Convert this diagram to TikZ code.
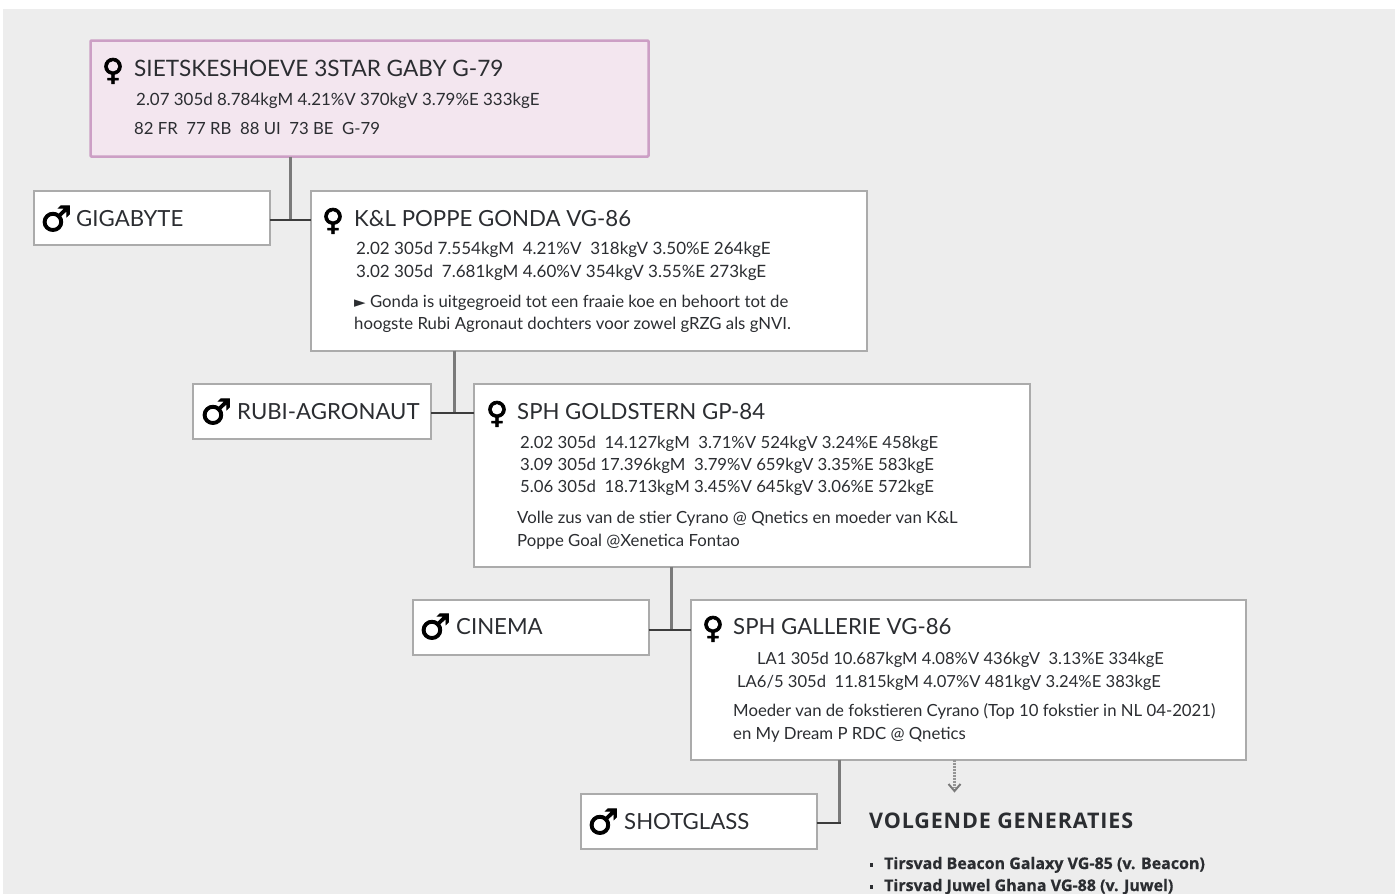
\documentclass[tikz,border=0pt]{standalone}
\usepackage{fontspec}
\setmainfont{Lato}
\newfontfamily\symf{DejaVu Sans}
\newfontfamily\symb[FakeBold=2.5]{DejaVu Sans}
\newfontfamily\headf[LetterSpace=4]{Open Sans Bold}
\newfontfamily\listf[FakeBold=0.6]{Open Sans Bold}
\definecolor{bg}{HTML}{EDEDED}
\definecolor{ink}{HTML}{2B2D31}
\definecolor{edge}{HTML}{ABABAB}
\tikzset{
  x=1pt,y=-1pt,
  box/.style={draw=edge,line width=2pt,fill=white,anchor=north west,inner sep=0,outer sep=0},
  rootbox/.style={box,draw=rootedge,fill=rootfill,line width=2.5pt,rounded corners=1pt},
  title/.style={anchor=base west,inner sep=0,yshift=-1pt,text=ink,font=\fontsize{22.2}{22}\selectfont},
  stat/.style={anchor=base west,inner sep=0,yshift=-1pt,text=ink,font=\fontsize{16.75}{17}\selectfont},
  femsym/.style={anchor=base,inner sep=0,text=black,font=\symb\fontsize{30}{30}\selectfont},
  malsym/.style={anchor=base,inner sep=0,text=black,font=\symb\fontsize{35}{35}\selectfont},
  vline/.style={draw=linegray,line width=3pt},
  hline/.style={draw=linedark,line width=2pt},
  listline/.style={anchor=base west,inner sep=0,text=ink,font=\listf\fontsize{16}{16}\selectfont},
}
\definecolor{rootedge}{HTML}{CC9FC5}
\definecolor{rootfill}{HTML}{F3E6EF}
\definecolor{linegray}{HTML}{7A7A7A}
\definecolor{linedark}{HTML}{3C3C3C}
\begin{document}
\begin{tikzpicture}
\useasboundingbox (0,0) rectangle (1395,894);
\fill[bg] (3,9) rectangle (1395,894);
% boxes
\node[rootbox,minimum width=558pt,minimum height=116pt] (root) at (90.5,40.5) {};
\node[box,minimum width=236pt,minimum height=54pt] (giga) at (33.5,190.5) {};
\node[box,minimum width=556pt,minimum height=160pt] (gonda) at (310.5,190.5) {};
\node[box,minimum width=238pt,minimum height=55pt] (rubi) at (193,383.5) {};
\node[box,minimum width=556pt,minimum height=183pt] (gold) at (474,383.5) {};
\node[box,minimum width=236pt,minimum height=55pt] (cinema) at (412.5,599.5) {};
\node[box,minimum width=555pt,minimum height=160pt] (gal) at (690.5,599.5) {};
\node[box,minimum width=236pt,minimum height=55pt] (shot) at (580.5,793.5) {};
% connectors
\coordinate (j1) at (290.5,220);
\coordinate (j2) at (454,413);
\coordinate (j3) at (671,630);
\coordinate (j4) at (839,823);
\coordinate (nextend) at (954.5,791);
\draw[vline] (root.south -| j1) -- (j1);
\draw[hline] (giga.east |- j1) -- (gonda.west |- j1);
\draw[vline] (gonda.south -| j2) -- (j2);
\draw[hline] (rubi.east |- j2) -- (gold.west |- j2);
\draw[vline] (gold.south -| j3) -- (j3);
\draw[hline] (cinema.east |- j3) -- (gal.west |- j3);
\draw[vline] (gal.south -| j4) -- (j4);
\draw[hline] (shot.east |- j4) -- ([xshift=1.5pt]j4);
\draw[draw=linegray!80,line width=3pt,dash pattern=on 2pt off 1pt] (gal.south -| nextend) -- ([yshift=4pt]nextend);
\draw[draw=linegray,line width=2pt] ([shift={(-6,-7)}]nextend) -- (nextend) -- ([shift={(6,-7)}]nextend);
% root
\node[femsym] (s0) at (113,80) {♀};
\node[title,font=\fontsize{22.6}{23}\selectfont] (t0) at (134,75) {SIETSKESHOEVE 3STAR GABY G-79};
\node[stat,font=\fontsize{16.9}{17}\selectfont] (t0a) at (136,104) {2.07 305d 8.784kgM 4.21\%V 370kgV 3.79\%E 333kgE};
\node[stat] (t0b) at (134,133) {82 FR~ 77 RB~ 88 UI~ 73 BE~ G-79};
% gigabyte / gonda
\node[malsym] (s1) at (56,231) {♂};
\node[title] (t1) at (76,225) {GIGABYTE};
\node[femsym] (s2) at (333,230) {♀};
\node[title] (t2) at (354,225) {K\&L POPPE GONDA VG-86};
\node[stat,font=\fontsize{17}{17}\selectfont] (t2a) at (356,253) {2.02 305d 7.554kgM~ 4.21\%V~ 318kgV 3.50\%E 264kgE};
\node[stat,font=\fontsize{17}{17}\selectfont] (t2b) at (356,276) {3.02 305d~ 7.681kgM 4.60\%V 354kgV 3.55\%E 273kgE};
\node[stat] (t2c) at (354,306) {{\symf\fontsize{15}{15}\selectfont ►} Gonda is uitgegroeid tot een fraaie koe en behoort tot de};
\node[stat] (t2d) at (354,328) {hoogste Rubi Agronaut dochters voor zowel gRZG als gNVI.};
% rubi / goldstern
\node[malsym] (s3) at (216,424) {♂};
\node[title] (t3) at (237,418) {RUBI-AGRONAUT};
\node[femsym] (s4) at (497,423) {♀};
\node[title] (t4) at (517,418) {SPH GOLDSTERN GP-84};
\node[stat] (t4a) at (520,447) {2.02 305d~ 14.127kgM~ 3.71\%V 524kgV 3.24\%E 458kgE};
\node[stat] (t4b) at (520,469) {3.09 305d 17.396kgM~ 3.79\%V 659kgV 3.35\%E 583kgE};
\node[stat] (t4c) at (520,491) {5.06 305d~ 18.713kgM 3.45\%V 645kgV 3.06\%E 572kgE};
\node[stat] (t4d) at (517,522) {Volle zus van de stier Cyrano @ Qnetics en moeder van K\&L};
\node[stat] (t4e) at (517,545) {Poppe Goal @Xenetica Fontao};
% cinema / gallerie
\node[malsym] (s5) at (435,639) {♂};
\node[title] (t5) at (456,633) {CINEMA};
\node[femsym] (s6) at (713,638) {♀};
\node[title] (t6) at (733,633) {SPH GALLERIE VG-86};
\node[stat,font=\fontsize{16.6}{17}\selectfont] (t6a) at (757,663) {LA1 305d 10.687kgM 4.08\%V 436kgV~ 3.13\%E 334kgE};
\node[stat,font=\fontsize{16.6}{17}\selectfont] (t6b) at (737,686) {LA6/5 305d~ 11.815kgM 4.07\%V 481kgV 3.24\%E 383kgE};
\node[stat] (t6c) at (733,715) {Moeder van de fokstieren Cyrano (Top 10 fokstier in NL 04-2021)};
\node[stat] (t6d) at (733,738) {en My Dream P RDC @ Qnetics};
% shotglass
\node[malsym] (s7) at (603,834) {♂};
\node[title] (t7) at (624,828) {SHOTGLASS};
% next generations
\node[anchor=base west,inner sep=0,text=ink,font=\headf\fontsize{21.5}{22}\selectfont] (h) at (869,828) {VOLGENDE GENERATIES};
\node[listline] (l1) at (884,869) {Tirsvad Beacon Galaxy VG-85 (v. Beacon)};
\node[listline] (l2) at (884,891) {Tirsvad Juwel Ghana VG-88 (v. Juwel)};
\fill[ink] (869.5,863) rectangle (872.5,867);
\fill[ink] (869.5,885) rectangle (872.5,889);
\end{tikzpicture}
\end{document}
